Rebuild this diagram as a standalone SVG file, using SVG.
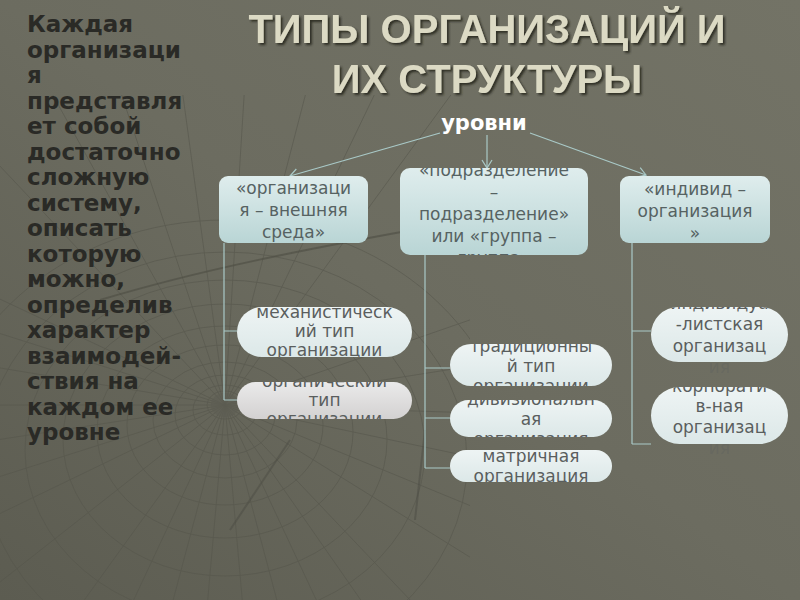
<svg xmlns="http://www.w3.org/2000/svg" width="800" height="600" viewBox="0 0 800 600">
<defs>
<linearGradient id="bg" x1="0" y1="1" x2="1" y2="0">
<stop offset="0" stop-color="#5c5c51"/>
<stop offset="0.5" stop-color="#6c6c60"/>
<stop offset="1" stop-color="#737366"/>
</linearGradient>
<linearGradient id="teal" x1="0" y1="0" x2="0" y2="1">
<stop offset="0" stop-color="#dfeded"/>
<stop offset="1" stop-color="#b9d5d5"/>
</linearGradient>
<linearGradient id="pill" x1="0" y1="0" x2="0" y2="1">
<stop offset="0" stop-color="#eef4f4"/>
<stop offset="1" stop-color="#dce8e8"/>
</linearGradient>
<linearGradient id="pillg" x1="0" y1="0" x2="0" y2="1">
<stop offset="0" stop-color="#eaeaea"/>
<stop offset="1" stop-color="#d3d1d1"/>
</linearGradient>
<filter id="shadow" x="-10%" y="-20%" width="120%" height="150%">
<feDropShadow dx="2" dy="2" stdDeviation="0.8" flood-color="#25251f" flood-opacity="0.9"/>
</filter>
<marker id="arr" markerWidth="12" markerHeight="12" refX="10" refY="6" orient="auto" markerUnits="userSpaceOnUse">
<path d="M2,1 L10,6 L2,11" fill="none" stroke="#a9c9c7" stroke-width="1.2"/>
</marker>
<clipPath id="c1"><rect x="219" y="176" width="149" height="67" rx="9"/></clipPath>
<clipPath id="c2"><rect x="400" y="168" width="188" height="87" rx="10"/></clipPath>
<clipPath id="c3"><rect x="620" y="176" width="150" height="67" rx="9"/></clipPath>
<clipPath id="p1"><rect x="237" y="307" width="175" height="50" rx="25"/></clipPath>
<clipPath id="p2"><rect x="237" y="382" width="175" height="37" rx="18.5"/></clipPath>
<clipPath id="p3"><rect x="450" y="344" width="162" height="42" rx="21"/></clipPath>
<clipPath id="p4"><rect x="450" y="400" width="162" height="37" rx="18.5"/></clipPath>
<clipPath id="p5"><rect x="450" y="450" width="162" height="32" rx="16"/></clipPath>
<clipPath id="p6"><rect x="651" y="307" width="137" height="55" rx="27.5"/></clipPath>
<clipPath id="p7"><rect x="651" y="387" width="137" height="57" rx="28.5"/></clipPath>
<clipPath id="webclip"><rect x="0" y="95" width="470" height="505"/></clipPath>
</defs>
<style>
.title{font-family:"Liberation Sans",Arial,sans-serif;font-weight:bold;font-size:40px;fill:#dcdac4;text-anchor:middle;filter:url(#shadow)}
.side{font-family:"DejaVu Sans",Verdana,sans-serif;font-weight:bold;font-size:23px;fill:#2a2a26}
.lvl{font-family:"DejaVu Sans",Verdana,sans-serif;font-weight:bold;font-size:21px;fill:#ffffff;text-anchor:middle}
.bt{font-family:"DejaVu Sans",Verdana,sans-serif;font-size:17px;fill:#566262;text-anchor:middle}
.pt{font-family:"DejaVu Sans",Verdana,sans-serif;font-size:17px;fill:#5a5e5e;text-anchor:middle}
.conn{fill:none;stroke:#a9c9c7;stroke-width:1.2}
.web{fill:none;stroke:#55554b;stroke-width:0.8;opacity:0.7}
</style>
<rect width="800" height="600" fill="url(#bg)"/>
<g id="background-web" clip-path="url(#webclip)">
<g class="web">
<path d="M225,405 L-200,205 M225,405 L-200,270 M225,405 L-200,335 M225,405 L-200,405 M225,405 L-200,470 M225,405 L-200,540 M225,405 L-200,610"/>
<path d="M225,405 L-150,700 M225,405 L-60,800 M225,405 L40,800 M225,405 L120,800 M225,405 L190,800 M225,405 L260,800 M225,405 L330,800 M225,405 L410,800 M225,405 L500,800 M225,405 L600,800"/>
<path d="M225,405 L700,700 M225,405 L700,600 M225,405 L700,505 M225,405 L700,420 M225,405 L700,330 M225,405 L700,240"/>
<path d="M225,405 L-100,60 M225,405 L0,0 M225,405 L90,0 M225,405 L170,0 M225,405 L250,0 M225,405 L330,0 M225,405 L420,0 M225,405 L520,0"/>
<ellipse cx="225" cy="405" rx="18" ry="14"/>
<ellipse cx="225" cy="410" rx="32" ry="25"/>
<ellipse cx="225" cy="415" rx="50" ry="40"/>
<ellipse cx="225" cy="420" rx="72" ry="58"/>
<ellipse cx="225" cy="425" rx="98" ry="80"/>
<ellipse cx="225" cy="432" rx="128" ry="106"/>
<ellipse cx="225" cy="440" rx="162" ry="136"/>
<ellipse cx="225" cy="450" rx="200" ry="170"/>
<ellipse cx="225" cy="462" rx="242" ry="210"/>
<ellipse cx="225" cy="476" rx="290" ry="256"/>
</g>
<path d="M225,405 m-14,0 a14,12 0 1,0 28,0 a14,12 0 1,0 -28,0" fill="#5d5d53" opacity="0.6"/>
<path d="M100,300 C200,270 300,250 440,225" stroke="#4c4c43" stroke-width="2" fill="none" opacity="0.6"/>
<path d="M230,530 L290,440" stroke="#4c4c43" stroke-width="2" fill="none" opacity="0.5"/>
<path d="M415,520 L425,430" stroke="#4c4c43" stroke-width="2" fill="none" opacity="0.5"/>
</g>
<g id="title">
<text class="title" x="487" y="43">ТИПЫ ОРГАНИЗАЦИЙ И</text>
<text class="title" x="487" y="93">ИХ СТРУКТУРЫ</text>
</g>
<g id="side-text">
<text class="side" x="27" y="32">Каждая</text>
<text class="side" x="27" y="57.5">организаци</text>
<text class="side" x="27" y="83">я</text>
<text class="side" x="27" y="108.5">представля</text>
<text class="side" x="27" y="134">ет собой</text>
<text class="side" x="27" y="159.5">достаточно</text>
<text class="side" x="27" y="185">сложную</text>
<text class="side" x="27" y="210.5">систему,</text>
<text class="side" x="27" y="236">описать</text>
<text class="side" x="27" y="261.5">которую</text>
<text class="side" x="27" y="287">можно,</text>
<text class="side" x="27" y="312.5">определив</text>
<text class="side" x="27" y="338">характер</text>
<text class="side" x="27" y="363.5">взаимодей-</text>
<text class="side" x="27" y="389">ствия на</text>
<text class="side" x="27" y="414.5">каждом ее</text>
<text class="side" x="27" y="440">уровне</text>
</g>
<g id="connectors">
<line class="conn" x1="440" y1="133" x2="290" y2="176" marker-end="url(#arr)"/>
<line class="conn" x1="487" y1="135" x2="487" y2="168" marker-end="url(#arr)"/>
<line class="conn" x1="530" y1="133" x2="646" y2="175" marker-end="url(#arr)"/>
<path class="conn" d="M224,243 V400 M224,331 H237 M224,400 H237"/>
<path class="conn" d="M425,255 V468 M425,368 H450 M425,418 H450 M425,468 H450"/>
<path class="conn" d="M632,243 V444 M632,331 H651 M632,444 H651"/>
</g>
<g id="levels">
<text class="lvl" x="484" y="130">уровни</text>
</g>
<g id="box-org-env">
<rect x="219" y="176" width="149" height="67" rx="9" fill="url(#teal)"/>
<g clip-path="url(#c1)">
<text class="bt" x="293.5" y="194">«организаци</text>
<text class="bt" x="293.5" y="216">я – внешняя</text>
<text class="bt" x="293.5" y="238">среда»</text>
</g>
</g>
<g id="box-dept">
<rect x="400" y="168" width="188" height="87" rx="10" fill="url(#teal)"/>
<g clip-path="url(#c2)">
<text class="bt" x="494" y="176">«подразделение</text>
<text class="bt" x="494" y="198">–</text>
<text class="bt" x="494" y="220">подразделение»</text>
<text class="bt" x="494" y="242">или «группа –</text>
<text class="bt" x="494" y="264">группа»</text>
</g>
</g>
<g id="box-indiv">
<rect x="620" y="176" width="150" height="67" rx="9" fill="url(#teal)"/>
<g clip-path="url(#c3)">
<text class="bt" x="695" y="195">«индивид –</text>
<text class="bt" x="695" y="217">организация</text>
<text class="bt" x="695" y="239">»</text>
</g>
</g>
<g id="pill-mech">
<rect x="237" y="307" width="175" height="50" rx="25" fill="url(#pill)"/>
<g clip-path="url(#p1)">
<text class="pt" x="324.5" y="318">механистическ</text>
<text class="pt" x="324.5" y="337">ий тип</text>
<text class="pt" x="324.5" y="356">организации</text>
</g>
</g>
<g id="pill-organic">
<rect x="237" y="382" width="175" height="37" rx="18.5" fill="url(#pillg)"/>
<g clip-path="url(#p2)">
<text class="pt" x="324.5" y="387">органический</text>
<text class="pt" x="324.5" y="406">тип</text>
<text class="pt" x="324.5" y="425">организации</text>
</g>
</g>
<g id="pill-trad">
<rect x="450" y="344" width="162" height="42" rx="21" fill="url(#pill)"/>
<g clip-path="url(#p3)">
<text class="pt" x="531" y="352">традиционны</text>
<text class="pt" x="531" y="372">й тип</text>
<text class="pt" x="531" y="392">организации</text>
</g>
</g>
<g id="pill-div">
<rect x="450" y="400" width="162" height="37" rx="18.5" fill="url(#pill)"/>
<g clip-path="url(#p4)">
<text class="pt" x="531" y="405">дивизиональн</text>
<text class="pt" x="531" y="425">ая</text>
<text class="pt" x="531" y="445">организация</text>
</g>
</g>
<g id="pill-matrix">
<rect x="450" y="450" width="162" height="32" rx="16" fill="url(#pill)"/>
<g clip-path="url(#p5)">
<text class="pt" x="531" y="462">матричная</text>
<text class="pt" x="531" y="482">организация</text>
</g>
</g>
<g id="pill-individ">
<rect x="651" y="307" width="137" height="55" rx="27.5" fill="url(#pill)"/>
<g clip-path="url(#p6)">
<text class="pt" x="719.5" y="309">индивидуа</text>
<text class="pt" x="719.5" y="330">-листская</text>
<text class="pt" x="719.5" y="352">организац</text>
</g>
<text class="pt" x="719.5" y="373" opacity="0.3">ия</text>
</g>
<g id="pill-corp">
<rect x="651" y="387" width="137" height="57" rx="28.5" fill="url(#pill)"/>
<g clip-path="url(#p7)">
<text class="pt" x="719.5" y="392">корпорати</text>
<text class="pt" x="719.5" y="412">в-ная</text>
<text class="pt" x="719.5" y="433">организац</text>
</g>
<text class="pt" x="719.5" y="454" opacity="0.3">ия</text>
</g>
</svg>
